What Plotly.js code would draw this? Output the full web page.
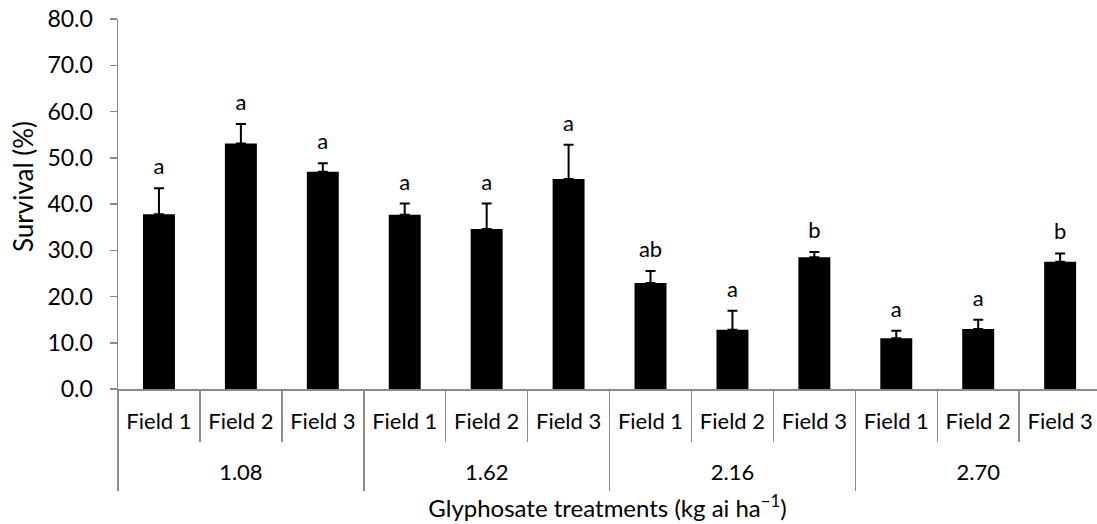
<!DOCTYPE html>
<html>
<head>
<meta charset="utf-8">
<script src="https://cdn.plot.ly/plotly-3.0.1.min.js"></script>
<style>html,body{margin:0;padding:0;background:#fff;}#chart{width:1097px;height:524px;}</style>
</head>
<body>
<div id="chart"></div>
<script>
const rates = ["1.08","1.62","2.16","2.70"];
const fields = ["Field 1","Field 2","Field 3"];
const barLabels = ["Field 1","Field 2","Field 3","Field 1","Field 2","Field 3","Field 1","Field 2","Field 3","Field 1","Field 2","Field 3"];
const survival = [37.8, 53.1, 47.0, 37.7, 34.6, 45.4, 22.9, 12.8, 28.5, 11.0, 13.0, 27.5];
const stdErr = [5.6, 4.2, 1.8, 2.4, 5.5, 7.4, 2.6, 4.1, 1.1, 1.6, 2.0, 1.8];
const letters = ["a","a","a","a","a","a","ab","a","b","a","a","b"];

const FONT = "Lato, 'Open Sans', sans-serif";
const GRAY = "#8a8a8a";
const FS = 22;

const pos = barLabels.map((_, i) => i);
const errTop = survival.map((v, i) => v + stdErr[i]);
const groupCenters = rates.map((_, g) => g * fields.length + (fields.length - 1) / 2);
const innerBounds = [], groupBounds = [];
for (let i = 0; i <= barLabels.length; i++) {
  const b = i - 0.5;
  if (i % fields.length === 0) groupBounds.push(b); else innerBounds.push(b);
}

const bars = {
  type: "bar",
  x: pos,
  y: survival,
  width: 0.39,
  marker: {color: "#000000", line: {color: "#000000", width: 0}},
  error_y: {
    type: "data", symmetric: false,
    array: stdErr, arrayminus: survival.map(() => 0),
    color: "#000000", thickness: 2, width: 5
  },
  hoverinfo: "none",
  showlegend: false
};

const labels = {
  type: "scatter",
  mode: "markers+text",
  x: pos,
  y: errTop,
  xaxis: "x2", yaxis: "y",
  text: letters,
  textposition: "top center",
  textfont: {family: FONT, size: FS, color: "#000"},
  marker: {size: 12, opacity: 0},
  hoverinfo: "none",
  showlegend: false,
  cliponaxis: false
};

const RANGE = [-0.5, 11.45];
const common = {type: "linear", range: RANGE, showgrid: false, zeroline: false, fixedrange: true};

const layout = {
  width: 1097, height: 524,
  margin: {l: 118, r: 0, t: 19, b: 135},
  paper_bgcolor: "#fff", plot_bgcolor: "#fff",
  font: {family: FONT, size: FS, color: "#000"},
  xaxis: Object.assign({}, common, {
    tickmode: "array", tickvals: pos, ticktext: barLabels,
    ticks: "", showline: true, linecolor: GRAY, linewidth: 1.5,
    ticklabelstandoff: 12,
    tickfont: {family: FONT, size: FS, color: "#000"},
    minor: {tickmode: "array", tickvals: innerBounds, ticks: "outside", ticklen: 51, tickcolor: GRAY, tickwidth: 1.5, showgrid: false}
  }),
  xaxis2: Object.assign({}, common, {
    overlaying: "x", anchor: "y", side: "bottom",
    tickmode: "array", tickvals: groupCenters, ticktext: rates,
    ticks: "", showline: false,
    ticklabelstandoff: 68,
    tickfont: {family: FONT, size: FS, color: "#000"},
    minor: {tickmode: "array", tickvals: groupBounds, ticks: "outside", ticklen: 101, tickcolor: GRAY, tickwidth: 1.5, showgrid: false},
    title: {text: "Glyphosate treatments (kg ai ha<sup>−1</sup>)", font: {family: FONT, size: 24, color: "#000"}, standoff: 16}
  }),
  yaxis: {
    range: [0, 80], dtick: 10, tick0: 0,
    tickformat: ".1f",
    showline: true, linecolor: GRAY, linewidth: 1.5,
    ticks: "outside", ticklen: 7, tickcolor: GRAY, tickwidth: 1.5,
    ticklabelstandoff: 12,
    tickfont: {family: FONT, size: 23, color: "#000"},
    showgrid: false, zeroline: false, fixedrange: true
  },
  annotations: [{
    text: "Survival (%)", textangle: -90,
    xref: "paper", yref: "paper", x: -0.097, y: 0.546,
    xanchor: "center", yanchor: "middle", showarrow: false,
    font: {family: FONT, size: 26, color: "#000"}
  }]
};

Plotly.newPlot("chart", [bars, labels], layout, {displayModeBar: false, staticPlot: true});
</script>
</body>
</html>
